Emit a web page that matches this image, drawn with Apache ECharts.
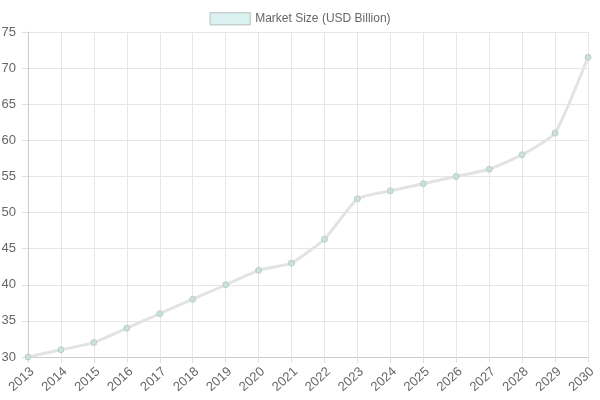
<!DOCTYPE html>
<html>
<head>
<meta charset="utf-8">
<script src="https://cdn.jsdelivr.net/npm/echarts@6/dist/echarts.min.js"></script>
<style>
  html, body { margin: 0; padding: 0; background: #fff; }
  #chart { width: 600px; height: 400px; }
</style>
</head>
<body>
<div id="chart"></div>
<script>
// 数据
var years = ['2013', '2014', '2015', '2016', '2017', '2018', '2019', '2020', '2021',
    '2022', '2023', '2024', '2025', '2026', '2027', '2028', '2029', '2030'];
var marketSize = [30, 31, 32, 34, 36, 38, 40, 42, 43, 46.3, 51.9, 53, 54, 55, 56, 58, 61, 71.5];
var seriesName = 'Market Size (USD Billion)';

var chart = echarts.init(document.getElementById('chart'));

var option = {
    animation: false,
    textStyle: { fontFamily: 'Liberation Sans, Arial, sans-serif' },
    legend: {
        top: 7,
        left: 'center',
        itemWidth: 40,
        itemHeight: 12,
        itemGap: 10,
        icon: 'rect',
        textStyle: { color: '#666', fontSize: 12 },
        itemStyle: {
            color: 'rgba(75,192,192,0.2)',
            borderColor: 'rgba(200,210,205,1)',
            borderWidth: 1.5
        },
        data: [seriesName]
    },
    grid: {
        left: 28,
        right: 12,
        top: 32,
        bottom: 43,
        outerBoundsMode: 'none'
    },
    xAxis: {
        type: 'category',
        boundaryGap: false,
        data: years,
        axisLine: { lineStyle: { color: '#ccc' } },
        axisTick: { show: true, length: 6, lineStyle: { color: '#e0e0e0' } },
        splitLine: { show: true, lineStyle: { color: '#e6e6e6' } },
        axisLabel: {
            rotate: 42, color: '#666', fontSize: 13, margin: 8, interval: 0,
            verticalAlign: 'top'
        }
    },
    yAxis: {
        type: 'value',
        min: 30,
        max: 75,
        interval: 5,
        axisLine: { show: true, lineStyle: { color: '#ccc' } },
        axisTick: { show: true, length: 6, lineStyle: { color: '#e0e0e0' } },
        splitLine: { show: true, lineStyle: { color: '#e6e6e6' } },
        axisLabel: { color: '#666', fontSize: 13, margin: 12 }
    },
    series: [{
        name: seriesName,
        type: 'line',
        data: marketSize,
        smooth: 0.15,
        symbol: 'circle',
        symbolSize: 6,
        lineStyle: { color: 'rgba(225,228,226,1)', width: 3 },
        itemStyle: {
            color: 'rgba(200,225,220,1)',
            borderColor: 'rgba(190,205,200,1)',
            borderWidth: 1
        }
    }]
};

chart.setOption(option);
</script>
</body>
</html>
